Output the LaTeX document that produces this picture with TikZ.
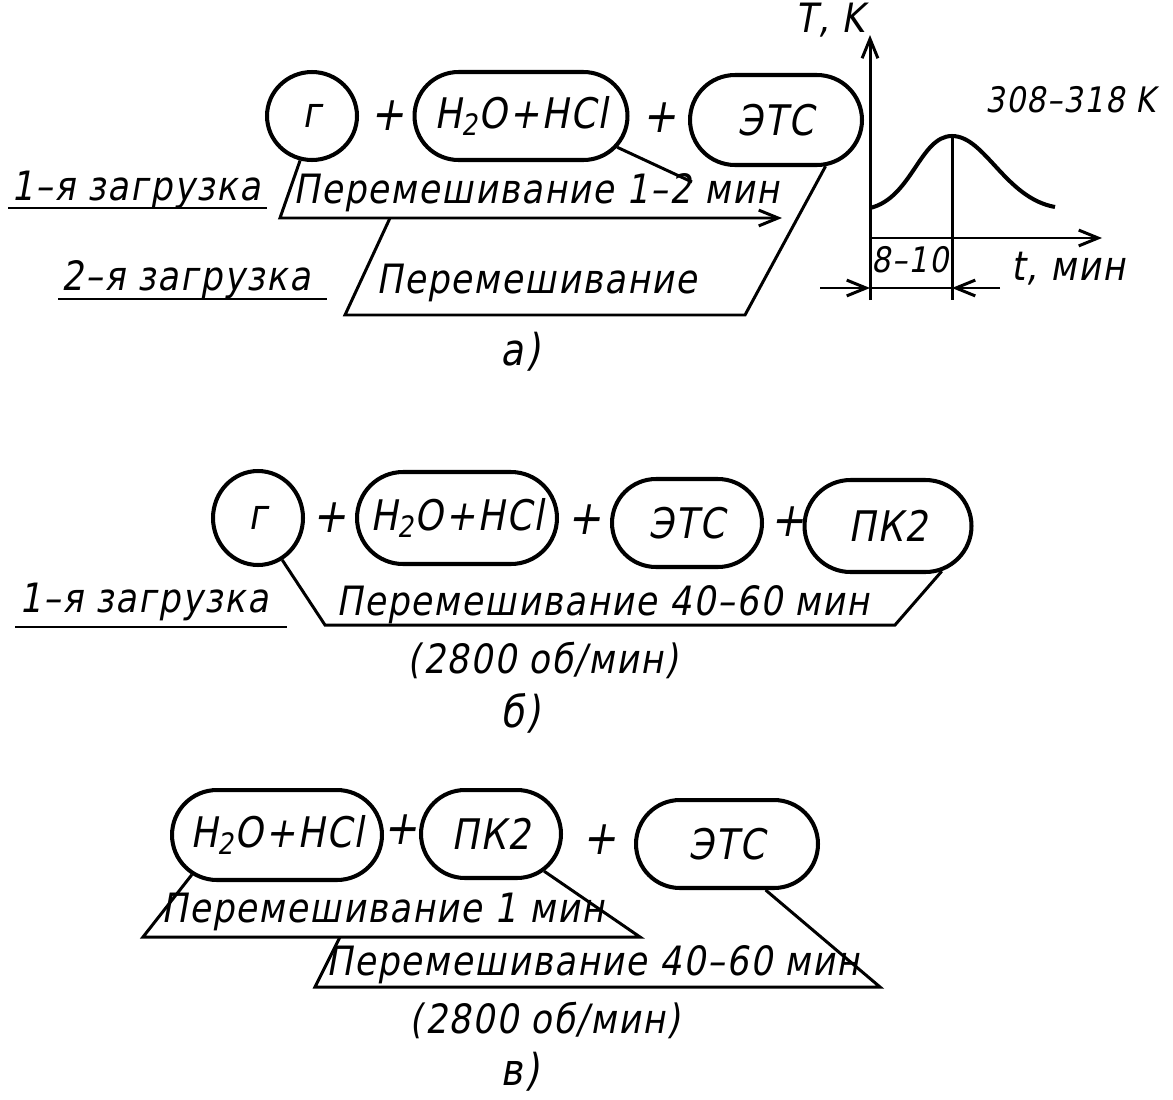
\documentclass[tikz,border=0pt]{standalone}
\usepackage{fontspec}
\setmainfont{DejaVu Sans}[FakeSlant=0.18,FakeStretch=0.86,LetterSpace=4]
\usetikzlibrary{shapes.misc,shapes.geometric,arrows.meta}
\begin{document}
\begin{tikzpicture}[x=0.02cm,y=-0.02cm,line width=1.7pt,
  txt/.style={font=\fontsize{23}{26}\selectfont,inner sep=0pt},
  boxtxt/.style={font=\fontsize{24}{28}\selectfont},
  circ/.style={ellipse,draw,line width=2.3pt,boxtxt,inner sep=0pt},
  rr/.style={rounded rectangle,draw,line width=2.3pt,boxtxt,inner sep=0pt},
  plus/.style={font=\fontsize{27}{32}\selectfont,inner sep=0pt},
  uline/.style={line width=1.5pt},
  barb/.style={-{Straight Barb[length=11pt,width=9pt]}},
  lbl/.style={font=\fontsize{25}{30}\selectfont,inner sep=0pt}]
\useasboundingbox (0,0) rectangle (1173,1099);

% ---------- (a) ----------
\node[circ,minimum width=1.8cm,minimum height=1.76cm] (g1) at (312,116) {г};
\node[plus] (p1) at (388,116) {+};
\node[rr,minimum width=4.26cm,minimum height=1.76cm] (h1) at (521,116) {H\textsubscript{2}O+HCl};
\node[plus] (p2) at (660,118) {+};
\node[rr,minimum width=3.44cm,minimum height=1.8cm] (e1) at (776,120) {ЭТС};

\node[txt,anchor=base west] (la1) at (10,200) {1–я загрузка};
\draw[uline] (8,208) -- (267,208);
\node[txt,anchor=base west] (ma1) at (292,203) {Перемешивание 1–2 мин};
\coordinate (a1) at (280,218);
\coordinate (a2) at (782,218);
\draw[barb] (g1.-105) -- (a1) -- (a2);
\coordinate (c1) at (692,182);
\draw (h1.-18) -- (c1);
\coordinate (b1) at (390,218);
\coordinate (b2) at (345,315);
\coordinate (b3) at (745,315);
\draw (b1) -- (b2) -- (b3) -- (e1.-43);
\node[txt,anchor=base west] (la2) at (60,290) {2–я загрузка};
\draw[uline] (58,299) -- (327,299);
\node[txt,anchor=base west] (ma2) at (375,293) {Перемешивание};
\node[lbl] (cap1) at (520,352) {а)};

% graph
\coordinate (O) at (870,238);
\coordinate (ybot) at (870,300);
\coordinate (ytop) at (870,35);
\coordinate (xend) at (1102,238);
\coordinate (pk) at (952,136);
\coordinate (pkb) at (952,300);
\draw[barb] (ybot) -- (ytop);
\draw[barb] (O) -- (xend);
\draw (pk) -- (pkb);
\draw[line width=2.3pt] (870,208) .. controls (912,198) and (920,136) .. (pk)
   .. controls (985,136) and (1005,198) .. (1055,207);
\coordinate (d0) at (820,288);
\coordinate (d1) at (870,288);
\coordinate (d2) at (952,288);
\coordinate (d3) at (1000,288);
\draw[barb] (d0) -- (d1);
\draw (d1) -- (d2);
\draw[barb] (d3) -- (d2);
\node[txt,anchor=base east] (tk) at (866,32) {T, K};
\node[txt,font=\fontsize{20}{24}\selectfont,anchor=base west] (trange) at (984,112) {308–318 K};
\node[txt,anchor=base west] (tmin) at (1010,280) {t, мин};
\node[txt,font=\fontsize{20}{24}\selectfont,anchor=base] (dt) at (910,272) {8–10};

% ---------- (б) ----------
\node[circ,minimum width=1.8cm,minimum height=1.88cm] (g2) at (258,518) {г};
\node[plus] (p3) at (330,518) {+};
\node[rr,minimum width=4.0cm,minimum height=1.84cm] (h2) at (457,518) {H\textsubscript{2}O+HCl};
\node[plus] (p4) at (585,520) {+};
\node[rr,minimum width=3.0cm,minimum height=1.76cm] (e2) at (687,523) {ЭТС};
\node[plus] (p5) at (788,522) {+};
\node[rr,minimum width=3.34cm,minimum height=1.84cm] (k2) at (888,526) {ПК2};

\node[txt,anchor=base west] (lb1) at (18,612) {1–я загрузка};
\draw[uline] (15,627) -- (287,627);
\coordinate (bb1) at (325,625);
\coordinate (bb2) at (895,625);
\draw (g2.-60) -- (bb1) -- (bb2) -- (k2.-40);
\node[txt,anchor=base west] (mb1) at (335,615) {Перемешивание 40–60 мин};
\node[txt] (rpm1) at (543,660) {(2800 об/мин)};
\node[lbl] (cap2) at (520,713) {б)};

% ---------- (в) ----------
\node[rr,minimum width=4.2cm,minimum height=1.8cm] (h3) at (277,835) {H\textsubscript{2}O+HCl};
\node[plus] (p6) at (401,830) {+};
\node[rr,minimum width=2.8cm,minimum height=1.76cm] (k3) at (491,834) {ПК2};
\node[plus] (p7) at (600,840) {+};
\node[rr,minimum width=3.64cm,minimum height=1.76cm] (e3) at (727,844) {ЭТС};

\coordinate (v1) at (143,937);
\coordinate (v2) at (640,937);
\draw (h3.-155) -- (v1) -- (v2) -- (k3.-35);
\node[txt,anchor=base west] (mv1) at (160,922) {Перемешивание 1 мин};
\coordinate (w0) at (340,937);
\coordinate (w1) at (315,987);
\coordinate (w2) at (880,987);
\draw (w0) -- (w1) -- (w2) -- (e3.-50);
\node[txt,anchor=base west] (mv2) at (325,975) {Перемешивание 40–60 мин};
\node[txt] (rpm2) at (545,1020) {(2800 об/мин)};
\node[lbl] (cap3) at (520,1072) {в)};
\end{tikzpicture}
\end{document}
